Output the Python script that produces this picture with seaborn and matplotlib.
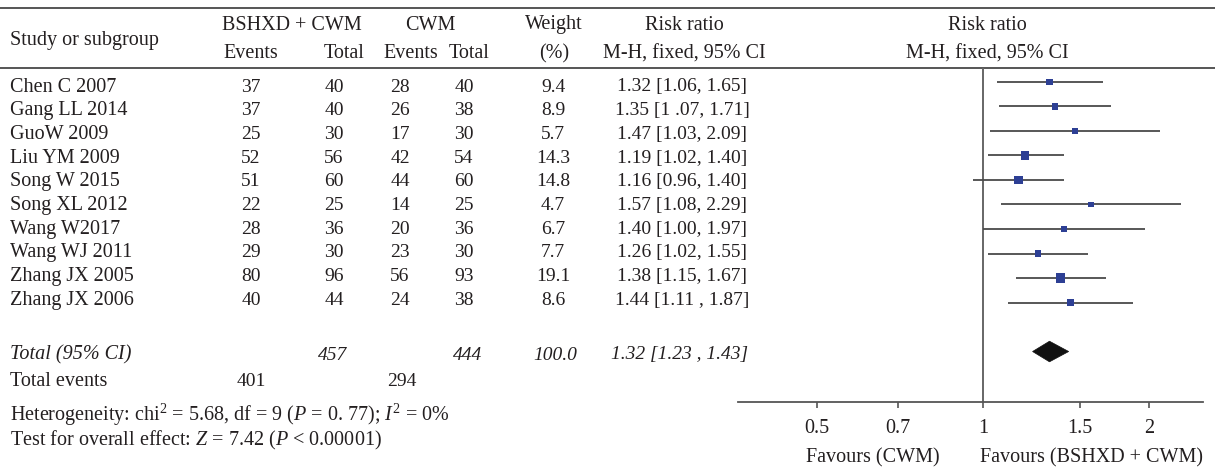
import numpy as np
import pandas as pd
import matplotlib
matplotlib.use("Agg")
import matplotlib.pyplot as plt
from matplotlib.patches import Polygon
import seaborn as sns

# ---- study data ----
studies = ["Chen C 2007", "Gang LL 2014", "GuoW 2009", "Liu YM 2009", "Song W 2015",
           "Song XL 2012", "Wang W2017", "Wang WJ 2011", "Zhang JX 2005", "Zhang JX 2006"]
exp_events = [37, 37, 25, 52, 51, 22, 28, 29, 80, 40]
exp_total = [40, 40, 30, 56, 60, 25, 36, 30, 96, 44]
ctl_events = [28, 26, 17, 42, 44, 14, 20, 23, 56, 24]
ctl_total = [40, 38, 30, 54, 60, 25, 36, 30, 93, 38]
weights = [9.4, 8.9, 5.7, 14.3, 14.8, 4.7, 6.7, 7.7, 19.1, 8.6]
rr = [1.32, 1.35, 1.47, 1.19, 1.16, 1.57, 1.40, 1.26, 1.38, 1.44]
ci_low = [1.06, 1.07, 1.03, 1.02, 0.96, 1.08, 1.00, 1.02, 1.15, 1.11]
ci_high = [1.65, 1.71, 2.09, 1.40, 1.40, 2.29, 1.97, 1.55, 1.67, 1.87]
rr_labels = ["1.32 [1.06, 1.65]", "1.35 [1 .07, 1.71]", "1.47 [1.03, 2.09]",
             "1.19 [1.02, 1.40]", "1.16 [0.96, 1.40]", "1.57 [1.08, 2.29]",
             "1.40 [1.00, 1.97]", "1.26 [1.02, 1.55]", "1.38 [1.15, 1.67]",
             "1.44 [1.11 , 1.87]"]

# pooled estimate
pooled_rr = 1.32
pooled_low = 1.23
pooled_high = 1.43
pooled_label = "1.32 [1.23 , 1.43]"
pooled_weight = "100.0"
total_exp = 457
total_ctl = 444
events_exp = 401
events_ctl = 294

tick_values = [0.5, 0.7, 1, 1.5, 2]
tick_labels = ["0.5", "0.7", "1", "1.5", "2"]

# ---- style ----
sns.set_theme(style="white")
plt.rcParams["font.family"] = ["Liberation Serif", "DejaVu Serif"]
plt.rcParams["mathtext.fontset"] = "custom"
plt.rcParams["mathtext.rm"] = "Liberation Serif"
plt.rcParams["mathtext.it"] = "Liberation Serif:italic"

TXT = "#231f20"
RULE = "#555555"
BLUE = "#2d3f94"
FS = 14.5
FS_NUM = 14

W, H = 1215, 472
fig = plt.figure(figsize=(W / 100, H / 100), dpi=100)
fig.patch.set_facecolor("white")

# full-figure axes in pixel units for the table
tab = fig.add_axes([0, 0, 1, 1])
tab.set_xlim(0, W)
tab.set_ylim(H, 0)
tab.axis("off")

def put(x, y, s, ha="center", style="normal", size=FS, **kw):
    tab.text(x, y, s, ha=ha, va="center", fontsize=size, color=TXT, style=style, **kw)

# horizontal rules
tab.plot([0, W], [8, 8], color=RULE, lw=1.4, solid_capstyle="butt")
tab.plot([0, W], [68, 68], color=RULE, lw=1.4, solid_capstyle="butt")

# header
h1, h2 = 25, 54
put(10, 40, "Study or subgroup", ha="left")
put(292, h1, "BSHXD + CWM")
put(251, h2, "Events")
put(344, h2, "Total")
put(430, h1, "CWM")
put(411, h2, "Events")
put(469, h2, "Total")
put(554, h1, "Weight")
put(554, h2, "(%)")
put(684, h1, "Risk ratio")
put(684, h2, "M-H, fixed, 95% CI")
put(987, h1, "Risk ratio")
put(987, h2, "M-H, fixed, 95% CI")

# study rows
row0, dy = 87, 23.7
for i, name in enumerate(studies):
    y = row0 + i * dy
    put(10, y, name, ha="left")
    put(251, y, str(exp_events[i]), size=FS_NUM)
    put(334, y, str(exp_total[i]), size=FS_NUM)
    put(400, y, str(ctl_events[i]), size=FS_NUM)
    put(464, y, str(ctl_total[i]), size=FS_NUM)
    put(553, y, f"{weights[i]:.1f}", size=FS_NUM)
    put(682, y, rr_labels[i], size=FS_NUM)

# totals
y_tot = 355
put(10, y_tot, "Total (95% CI)", ha="left", style="italic")
put(333, y_tot, str(total_exp), style="italic", size=FS_NUM)
put(468, y_tot, str(total_ctl), style="italic", size=FS_NUM)
put(555, y_tot, pooled_weight, style="italic", size=FS_NUM)
put(680, y_tot, pooled_label, style="italic", size=FS_NUM)
y_ev = 382
put(10, y_ev, "Total events", ha="left")
put(251, y_ev, str(events_exp), size=FS_NUM)
put(402, y_ev, str(events_ctl), size=FS_NUM)

put(10, 415, "Heterogeneity: chi$^2$ = 5.68, df = 9 ($P$ = 0. 77); $I^2$ = 0%", ha="left")
put(10, 440, "Test for overall effect: $Z$ = 7.42 ($P$ < 0.00001)", ha="left")

put(873, 458, "Favours (CWM)")
put(1091, 458, "Favours (BSHXD + CWM)")

# ---- forest plot ----
left_px, right_px, top_px, bot_px = 738, 1203, 68, 402
ax = fig.add_axes([left_px / W, (H - bot_px) / H, (right_px - left_px) / W, (bot_px - top_px) / H])
ax.set_facecolor("none")
ax.set_xscale("log")
px_per_ln = 239.5
ax.set_xlim(np.exp((left_px - 983) / px_per_ln), np.exp((right_px - 983) / px_per_ln))
ax.set_ylim(13.06, -0.57)

df = pd.DataFrame({"study": studies, "rr": rr, "low": ci_low, "high": ci_high,
                   "weight": weights, "row": np.arange(len(studies))})

ax.hlines(df["row"], df["low"], df["high"], color="#4a4a4a", lw=1.3, zorder=2)
sns.scatterplot(data=df, x="rr", y="row", size="weight", sizes=(14, 44), marker="s",
                color=BLUE, linewidth=0, legend=False, ax=ax, zorder=3)

pooled_row = 11
half_h = 0.42
diamond = Polygon([(pooled_low, pooled_row), (pooled_rr, pooled_row - half_h),
                   (pooled_high, pooled_row), (pooled_rr, pooled_row + half_h)],
                  closed=True, facecolor="#111111", edgecolor="#111111", lw=0.5, zorder=3)
ax.add_patch(diamond)

ax.axvline(1, color="#666666", lw=1.4, zorder=1)

for side in ["top", "right", "left"]:
    ax.spines[side].set_visible(False)
ax.spines["bottom"].set_color(RULE)
ax.spines["bottom"].set_linewidth(1.3)
ax.set_xticks(tick_values)
ax.set_xticklabels(tick_labels)
ax.xaxis.set_minor_locator(matplotlib.ticker.NullLocator())
ax.tick_params(axis="x", which="major", direction="out", length=4, width=1.2,
               color=RULE, labelsize=FS, labelcolor=TXT, pad=8, bottom=True)
ax.set_yticks([])
ax.set_xlabel("")
ax.set_ylabel("")

fig.savefig("out.png", dpi=100, facecolor="white")
